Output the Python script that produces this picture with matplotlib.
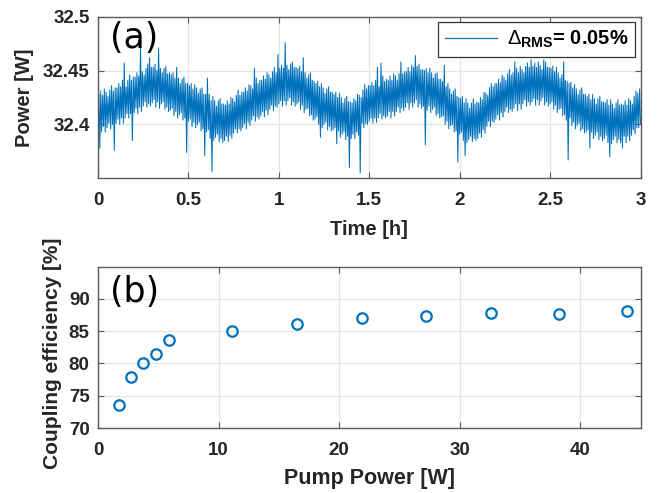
import numpy as np
import matplotlib
matplotlib.use("Agg")
import matplotlib.pyplot as plt

# (a) power trace: highest and lowest reading in each
# 0.01 h bin, in mW above 32.4 W
power_high_mw = [
    28, 31, 27, 33, 30,   26, 32, 36, 31, 34,   34, 38, 35, 41, 57,   35, 41, 46, 41, 44,
    44, 48, 45, 72, 49,   46, 52, 56, 62, 53,   53, 56, 50, 71, 52,   48, 52, 54, 47, 48,
    46, 48, 43, 53, 43,   38, 42, 44, 38, 38,   36, 38, 33, 37, 34,   29, 33, 34, 28, 28,
    43, 28, 22, 26, 22,   17, 22, 24, 19, 19,   18, 22, 19, 25, 24,   21, 27, 32, 27, 30,
    30, 34, 31, 37, 36,   33, 52, 43, 38, 41,   41, 45, 42, 48, 46,   43, 49, 53, 48, 65,
    52, 55, 52, 76, 55,   51, 56, 58, 53, 53,   52, 54, 49, 62, 48,   43, 46, 48, 41, 40,
    38, 40, 35, 38, 34,   29, 33, 35, 30, 30,   28, 30, 25, 29, 25,   20, 24, 26, 21, 21,
    20, 24, 22, 28, 27,   25, 32, 37, 33, 36,   36, 39, 36, 41, 53,   35, 57, 45, 40, 42,
    41, 45, 41, 47, 45,   41, 47, 58, 47, 49,   49, 53, 49, 55, 53,   64, 54, 56, 51, 51,
    50, 52, 48, 52, 48,   43, 47, 48, 42, 42,   40, 55, 35, 38, 33,   28, 31, 33, 26, 25,
    24, 26, 20, 24, 20,   15, 20, 24, 19, 21,   20, 25, 23, 30, 29,   27, 34, 38, 35, 38,
    38, 42, 39, 46, 44,   41, 47, 51, 46, 48,   58, 52, 48, 54, 51,   48, 54, 57, 53, 60,
    54, 57, 53, 58, 55,   51, 60, 58, 53, 53,   52, 54, 49, 53, 48,   43, 46, 58, 41, 40,
    38, 39, 34, 37, 33,   28, 32, 34, 28, 28,   26, 28, 23, 28, 24,   19, 24, 26, 21, 21,
    20, 23, 18, 23, 19,   15, 20, 23, 18, 19,   18, 22, 18, 24, 22,   19, 26, 31, 29, 33,
    49,
]
power_low_mw = [
    -5, -22, -7, -2, -7,  -3, 1, -4, 0, -24,    1, 5, 0, 6, 1,        6, 10, 6, 10, -15,
    11, 15, 10, 16, 12,   17, 21, 16, 19, 17,   20, 23, 16, 21, 15,   19, 21, 14, 16, 12,
    13, 15, 8, 12, 6,     9, 11, 4, 6, -26,     3, 5, -2, 2, -3,      0, 2, -6, -4, -29,
    -7, -5, -13, -44, -15, -12, -9, -16, -13, -17, -15, -11, -16, -10, -13, -8, -4, -8, -4, -6,
    -3, 1, -4, 2, -1,     4, 8, 3, 7, 5,        8, 12, 7, 13, 9,      14, 18, 13, 17, 16,
    19, 22, 17, 22, 18,   22, 25, 18, 21, 17,   19, 21, 14, 18, 11,   14, 15, 8, 9, 4,
    5, 7, 0, -12, -3,     0, 2, -5, -2, -6,     -5, -3, -18, -6, -12, -9, -7, -14, -11, -40,
    -13, -9, -13, -7, -10, -45, 1, -3, 1, 0,    3, 6, 1, 6, 2,        6, 10, 5, 8, 6,
    8, 12, 6, 12, 8,      12, 16, 11, 15, 13,   16, 20, 14, 20, 16,   20, 23, 16, 19, 15,
    17, -19, 13, 17, 11,  14, 16, 8, 10, 6,     7, 8, 0, 3, -4,       -1, 0, -7, -6, -35,
    -9, -7, -15, -29, -17, -14, -11, -16, -13, -15, -13, -8, -12, -5, -8, -2, 3, -2, 3, 2,
    5, 9, 4, 11, 7,       12, 16, 11, 14, 12,   15, 19, 13, 19, 14,   19, 23, 17, 21, 18,
    21, 24, 18, 23, 18,   22, 25, 18, 21, 17,   19, 21, 14, 18, 11,   14, 15, 8, 9, 4,
    -33, 6, -1, 2, -4,    -1, 1, -6, -4, -8,    -7, -5, -22, -7, -13, -10, -7, -14, -11, -15,
    -13, -10, -17, -30, -18, -14, -11, -17, -14, -17, -22, -11, -17, -11, -15, -10, -5, -9, -3, -3,
    1,
]
bin_h = 0.01
time_ticks = [0, 0.5, 1, 1.5, 2, 2.5, 3]
time_labels = ["0", "0.5", "1", "1.5", "2", "2.5", "3"]
power_ticks = [32.4, 32.45, 32.5]
power_labels = ["32.4", "32.45", "32.5"]
rms_label = r"$\Delta_{\mathbf{RMS}}$= 0.05%"

# (b) coupling efficiency vs pump power
pump_w = [1.7, 2.7, 3.7, 4.8, 5.9, 11.1, 16.5, 21.9, 27.2, 32.6, 38.2, 43.9]
coupling_pct = [73.5, 77.9, 80.0, 81.4, 83.7, 85.1, 86.1, 87.0, 87.3, 87.9, 87.6, 88.1]
pump_ticks = [0, 10, 20, 30, 40]
coupling_ticks = [70, 75, 80, 85, 90]

blue = "#0072BD"
plt.rcParams["font.family"] = ["Liberation Sans", "DejaVu Sans"]
plt.rcParams["mathtext.fontset"] = "custom"
plt.rcParams["mathtext.rm"] = "Liberation Sans"
plt.rcParams["mathtext.bf"] = "Liberation Sans:bold"

fig = plt.figure(figsize=(6.57, 4.93), dpi=100)
ax1 = fig.add_axes([0.1492, 0.6383, 0.8257, 0.3278])
ax2 = fig.add_axes([0.1492, 0.1318, 0.8257, 0.3272])


def style(ax):
    for s in ax.spines.values():
        s.set_color("#5a5a5a")
        s.set_linewidth(1.0)
    ax.tick_params(direction="in", top=True, right=True, length=4, width=0.8,
                   color="#5a5a5a", labelcolor="#262626", labelsize=13.5)
    ax.tick_params(axis="x", pad=10)
    ax.tick_params(axis="y", pad=6)
    for lab in ax.get_xticklabels() + ax.get_yticklabels():
        lab.set_fontweight("bold")
    ax.grid(True, color="#e4e4e4", linewidth=0.9)
    ax.set_axisbelow(True)


# top panel: trace runs low -> high within each bin
t = np.arange(len(power_high_mw)) * bin_h
tt = np.column_stack([t, t + bin_h / 2]).ravel()
pp = 32.4 + np.column_stack([power_low_mw, power_high_mw]).ravel() / 1000.0
line, = ax1.plot(tt[:-1], pp[:-1], color=blue, linewidth=0.75)
ax1.set_xlim(0, 3)
ax1.set_ylim(32.35, 32.5)
ax1.set_xticks(time_ticks, time_labels)
ax1.set_yticks(power_ticks, power_labels)
style(ax1)
ax1.set_xlabel("Time [h]", fontsize=14.5, fontweight="bold", color="#262626")
ax1.set_ylabel("Power [W]", fontsize=14.5, fontweight="bold", color="#262626")
ax1.xaxis.set_label_coords(0.5, -0.26)
ax1.yaxis.set_label_coords(-0.118, 0.5)
ax1.text(0.022, 0.975, "(a)", transform=ax1.transAxes, fontsize=25,
         family="DejaVu Sans", va="top", ha="left")
leg = ax1.legend([line], [rms_label], loc="upper right", fancybox=False,
                 framealpha=1, edgecolor="#333333", borderaxespad=0.25,
                 handlelength=2.6, handletextpad=0.5, borderpad=0.35,
                 prop={"weight": "bold", "size": 14.5})
leg.get_frame().set_linewidth(0.9)
leg.get_lines()[0].set_linewidth(0.9)

# bottom panel
ax2.plot(pump_w, coupling_pct, linestyle="none", marker="o", markersize=7.5,
         markerfacecolor="none", markeredgecolor=blue, markeredgewidth=1.6)
ax2.set_xlim(0, 45)
ax2.set_ylim(70, 95)
ax2.set_xticks(pump_ticks)
ax2.set_yticks(coupling_ticks)
style(ax2)
ax2.set_xlabel("Pump Power [W]", fontsize=15.5, fontweight="bold", color="#262626")
ax2.set_ylabel("Coupling efficiency [%]", fontsize=15, fontweight="bold", color="#262626")
ax2.xaxis.set_label_coords(0.5, -0.25)
ax2.yaxis.set_label_coords(-0.066, 0.465)
ax2.text(0.022, 0.95, "(b)", transform=ax2.transAxes, fontsize=25,
         family="DejaVu Sans", va="top", ha="left")

fig.savefig("out.png", dpi=100)
